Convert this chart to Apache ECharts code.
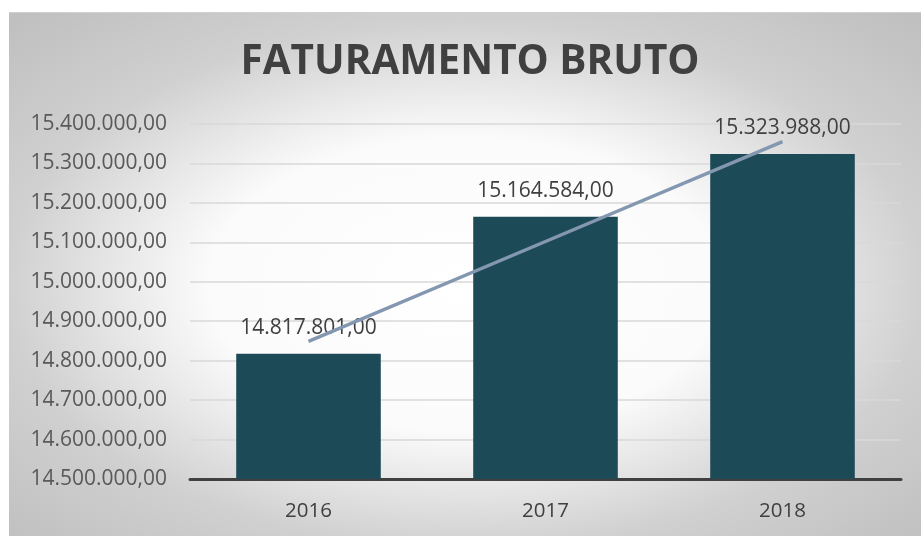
<!DOCTYPE html>
<html>
<head>
<meta charset="utf-8">
<script src="https://cdn.jsdelivr.net/npm/echarts@6/dist/echarts.min.js"></script>
<style>
  html, body { margin: 0; padding: 0; background: #fff; }
  #chart { width: 921px; height: 536px; }
</style>
</head>
<body>
<div id="chart"></div>
<script>
// dados
var anos = ['2016', '2017', '2018'];
var faturamento = [14817801, 15164584, 15323988];
// linha de tendência (linear) estimada da imagem
var tendencia = [14849031, 15102124, 15355218];

var myChart = echarts.init(document.getElementById('chart'));

// formata no padrão brasileiro: 15.400.000,00
function formatBR(v) {
    var parts = Math.round(v).toString().replace(/\B(?=(\d{3})+(?!\d))/g, '.');
    return parts + ',00';
}

var option = {
    animation: false,
    textStyle: { fontFamily: 'Open Sans' },
    graphic: [
        {
            // fundo com gradiente radial (elipse achatada)
            type: 'rect',
            z: -10,
            x: 9,
            y: 12,
            scaleY: 524 / 912,
            shape: { x: 0, y: 0, width: 912, height: 912 },
            style: {
                fill: new echarts.graphic.RadialGradient(0.5, 0.52, 0.7, [
                    { offset: 0, color: '#ffffff' },
                    { offset: 0.4, color: '#fbfbfb' },
                    { offset: 0.72, color: '#d0d0d0' },
                    { offset: 1, color: '#c0c0c0' }
                ])
            }
        },
        {
            type: 'line',
            z: -9,
            shape: { x1: 9, y1: 12.5, x2: 921, y2: 12.5 },
            style: { stroke: '#d0d0d0', lineWidth: 1 }
        }
    ],
    title: {
        text: 'FATURAMENTO BRUTO',
        left: 470,
        top: 42,
        padding: 0,
        textAlign: 'center',
        textStyle: {
            fontFamily: 'Open Sans',
            fontWeight: 'bold',
            fontSize: 40.5,
            color: '#404040'
        }
    },
    grid: {
        left: 190,
        right: 20,
        top: 124,
        bottom: 57,
        containLabel: false
    },
    xAxis: {
        type: 'category',
        data: anos,
        axisLine: { lineStyle: { color: '#404040', width: 3 } },
        axisTick: { show: false },
        axisLabel: {
            margin: 22,
            fontSize: 20.5,
            color: '#404040'
        }
    },
    yAxis: {
        type: 'value',
        min: 14500000,
        max: 15400000,
        interval: 100000,
        axisLine: { show: false },
        axisTick: { show: false },
        axisLabel: {
            margin: 23,
            fontSize: 21,
            color: '#595959',
            formatter: formatBR
        },
        splitLine: { lineStyle: { color: '#d9d9d9', width: 1.5 } }
    },
    series: [
        {
            type: 'bar',
            data: faturamento,
            barCategoryGap: '39%',
            itemStyle: { color: '#1d4a57' },
            label: {
                show: true,
                position: 'top',
                distance: 15,
                fontSize: 21,
                color: '#404040',
                formatter: function (p) { return formatBR(p.value); }
            }
        },
        {
            type: 'line',
            data: tendencia,
            symbol: 'none',
            z: 5,
            lineStyle: { color: '#8497b0', width: 3.5 }
        }
    ]
};

myChart.setOption(option);

window.addEventListener('resize', function() {
    myChart.resize();
});
</script>
</body>
</html>
